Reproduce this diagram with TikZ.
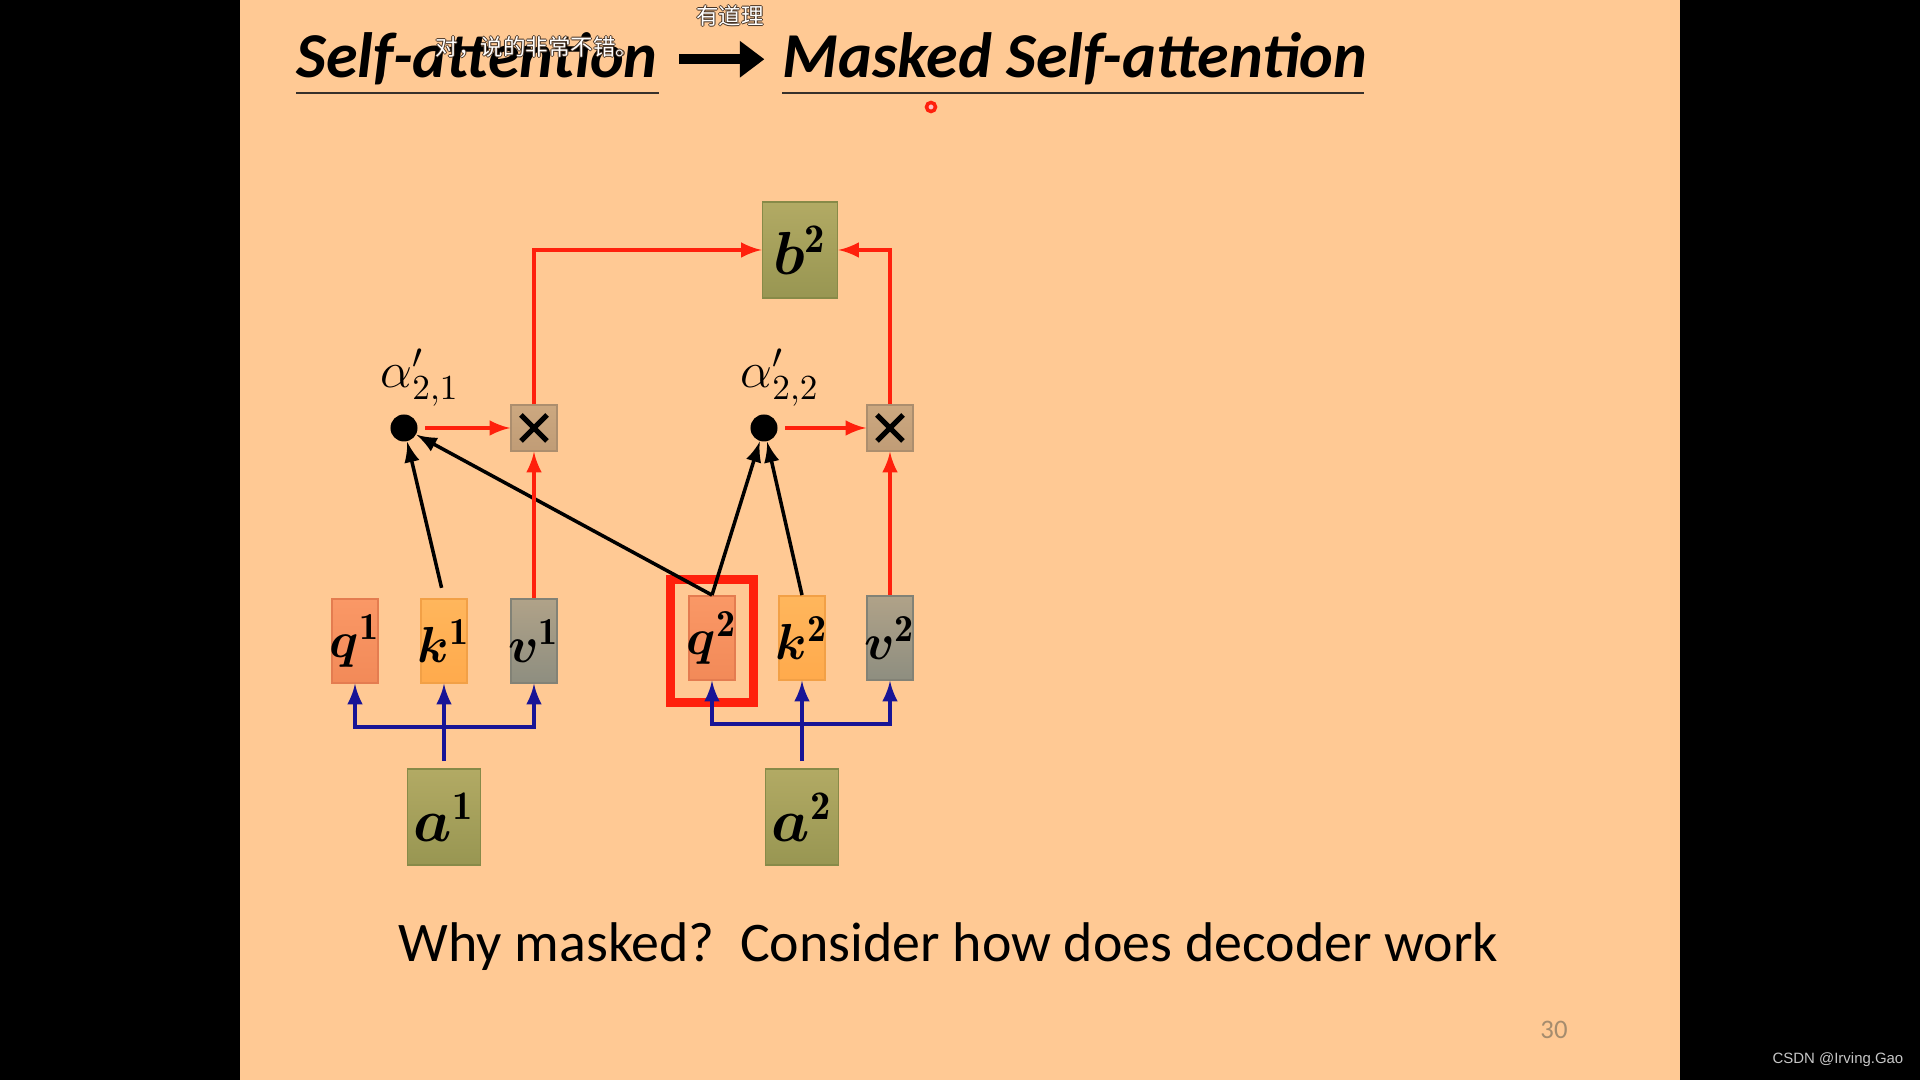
\documentclass[tikz,border=0pt]{standalone}
\usepackage{amsmath,bm}
\usepackage{fontspec}
\newfontfamily\slidefont{Carlito}
\newfontfamily\cjk{Noto Sans CJK SC}
\newfontfamily\markfont{Liberation Sans}
\usetikzlibrary{%
  arrows.meta,%
  calc%
}
\definecolor{slidebg}{RGB}{255,201,148}
\definecolor{olivetop}{RGB}{178,170,100}
\definecolor{olivebot}{RGB}{152,150,82}
\definecolor{oliveline}{RGB}{135,138,72}
\definecolor{qtop}{RGB}{250,152,102}
\definecolor{qbot}{RGB}{242,138,88}
\definecolor{qline}{RGB}{228,124,80}
\definecolor{ktop}{RGB}{255,182,92}
\definecolor{kbot}{RGB}{255,170,76}
\definecolor{kline}{RGB}{242,160,70}
\definecolor{vtop}{RGB}{176,162,136}
\definecolor{vbot}{RGB}{142,142,128}
\definecolor{vline}{RGB}{130,130,118}
\definecolor{multop}{RGB}{204,168,128}
\definecolor{mulbot}{RGB}{192,156,118}
\definecolor{mulline}{RGB}{172,142,110}
\definecolor{attred}{RGB}{255,32,12}
\definecolor{projblue}{RGB}{24,20,150}
\definecolor{pagegray}{RGB}{165,140,110}
\definecolor{titlerule}{RGB}{55,48,42}
\definecolor{danmuedge}{RGB}{70,50,35}
\newcommand\danmu[1]{\leavevmode
  \rlap{\color{danmuedge}\kern-.35pt#1}\rlap{\color{danmuedge}\kern.35pt#1}%
  \rlap{\color{danmuedge}\raisebox{.35pt}{#1}}\rlap{\color{danmuedge}\raisebox{-.35pt}{#1}}%
  {\color{white}#1}}
\newcommand\vecsym[2]{\makebox[0pt]{$\bm{#1}^{\mathbf{#2}}$}}
\tikzset{>=latex,
  titletext/.style={anchor=base west,inner sep=0pt,
    font=\slidefont\bfseries\itshape\fontsize{18.2}{20}\selectfont},
  titlerule/.style={draw=titlerule,line width=.8pt},
  bigarrow/.style={line width=2.8pt,-{Triangle[length=7pt,width=10pt]},shorten <=6pt,shorten >=5pt},
  box/.style={rectangle,inner sep=0pt,line width=.5pt,
    font=\fontsize{15.5}{18}\selectfont},
  olivebox/.style={box,top color=olivetop,bottom color=olivebot,draw=oliveline,
    minimum width=.73cm,minimum height=.96cm,font=\fontsize{16.5}{18}\selectfont},
  qbox/.style={box,top color=qtop,bottom color=qbot,draw=qline,
    minimum width=.46cm,minimum height=.84cm},
  kbox/.style={box,top color=ktop,bottom color=kbot,draw=kline,
    minimum width=.46cm,minimum height=.84cm},
  vbox/.style={box,top color=vtop,bottom color=vbot,draw=vline,
    minimum width=.46cm,minimum height=.84cm},
  mulbox/.style={box,top color=multop,bottom color=mulbot,draw=mulline,
    minimum size=.46cm,
    path picture={
      \draw[black,line width=1.5pt]
        ($(path picture bounding box.center)+(-13,-13)$) -- ($(path picture bounding box.center)+(13,13)$)
        ($(path picture bounding box.center)+(-13,13)$) -- ($(path picture bounding box.center)+(13,-13)$);}},
  dotnode/.style={circle,fill=black,inner sep=0pt,minimum size=.27cm},
  alphalabel/.style={inner sep=0pt,font=\fontsize{14}{16}\selectfont},
  redframe/.style={draw=attred,line width=2.6pt,minimum width=.83cm,minimum height=1.23cm},
  projline/.style={draw=projblue,line width=1pt},
  attline/.style={draw=attred,line width=1pt},
  scoreline/.style={draw=black,line width=1pt},
  bodytext/.style={anchor=base west,inner sep=0pt,font=\slidefont\fontsize{15.9}{18}\selectfont},
  pagenum/.style={inner sep=0pt,text=pagegray,font=\slidefont\fontsize{7.6}{9}\selectfont},
  watermark/.style={inner sep=0pt,text=black!22,font=\markfont\fontsize{4.25}{6}\selectfont},
  danmutext/.style={inner sep=0pt,font=\cjk\fontsize{6.4}{8}\selectfont},
  laser/.style={circle,draw=attred,fill=red!25,line width=1pt,inner sep=0pt,minimum size=.09cm}
}

\begin{document}
\begin{tikzpicture}[x=0.01cm,y=-0.01cm]
    \useasboundingbox (0,0) rectangle (1920,1080);
    \fill[black] (0,0) rectangle (1920,1080);
    \fill[slidebg] (240,0) rectangle (1680,1080);

    % title line
    \node[titletext] (old) at (296,78) {Self-attention};
    \node[titletext] (new) at (782,78) {Masked Self-attention};
    \draw[titlerule] (296,93) -- (659,93);
    \draw[titlerule] (782,93) -- (1364,93);
    \draw[bigarrow] (old.east) -- (new.west);
    \node[danmutext] (dm1) at (537,47) {\danmu{对，说的非常不错。}};
    \node[danmutext] (dm2) at (730,16) {\danmu{有道理}};
    \node[laser] (ptr) at (931,107) {};

    % output
    \node[olivebox,minimum width=.75cm] (b2) at (800,250) {\vecsym{b}{2}};

    % weights
    \node[dotnode] (d1) at (404,428) {};
    \node[dotnode] (d2) at (764,428) {};
    \node[alphalabel] (l1) at (420,378) {$\alpha'_{2,1}$};
    \node[alphalabel] (l2) at (780,378) {$\alpha'_{2,2}$};
    \node[mulbox] (m1) at (534,428) {};
    \node[mulbox] (m2) at (890,428) {};

    % q k v
    \node[redframe] (sel) at (712,641) {};
    \node[qbox] (q1) at (355,641) {\vecsym{q}{1}};
    \node[kbox] (k1) at (444,641) {\vecsym{k}{1}};
    \node[vbox] (v1) at (534,641) {\vecsym{v}{1}};
    \node[qbox] (q2) at (712,638) {\vecsym{q}{2}};
    \node[kbox] (k2) at (802,638) {\vecsym{k}{2}};
    \node[vbox] (v2) at (890,638) {\vecsym{v}{2}};

    % inputs
    \node[olivebox] (a1) at (444,817) {\vecsym{a}{1}};
    \node[olivebox] (a2) at (802,817) {\vecsym{a}{2}};

    \coordinate (j1) at (444,727);
    \coordinate (j2) at (802,724);
    \draw[projline,->,shorten <=2pt] (a1.north) -- (k1.south);
    \draw[projline,->] (j1) -| (q1.south);
    \draw[projline,->] (j1) -| (v1.south);
    \draw[projline,->,shorten <=2pt] (a2.north) -- (k2.south);
    \draw[projline,->] (j2) -| (q2.south);
    \draw[projline,->] (j2) -| (v2.south);

    \draw[scoreline,->,shorten <=3pt] (k1.north) -- (d1);
    \draw[scoreline,->] (q2.north) -- (d1);
    \draw[scoreline,->] (q2.north) -- (d2);
    \draw[scoreline,->] (k2.north) -- (d2);

    \draw[attline,->,shorten <=2pt] (d1) -- (m1.west);
    \draw[attline,->,shorten <=2pt] (d2) -- (m2.west);
    \draw[attline,->] (v1.north) -- (m1.south);
    \draw[attline,->] (v2.north) -- (m2.south);
    \draw[attline,->] (m1.north) |- (b2.west);
    \draw[attline,->] (m2.north) |- (b2.east);

    \node[bodytext] (why) at (398,962) {Why masked?\ \ Consider how does decoder work};
    \node[pagenum] (pg) at (1554,1030) {30};
    \node[watermark,anchor=east] (wm) at (1904,1060) {CSDN @Irving.Gao};
  \end{tikzpicture}
\end{document}
